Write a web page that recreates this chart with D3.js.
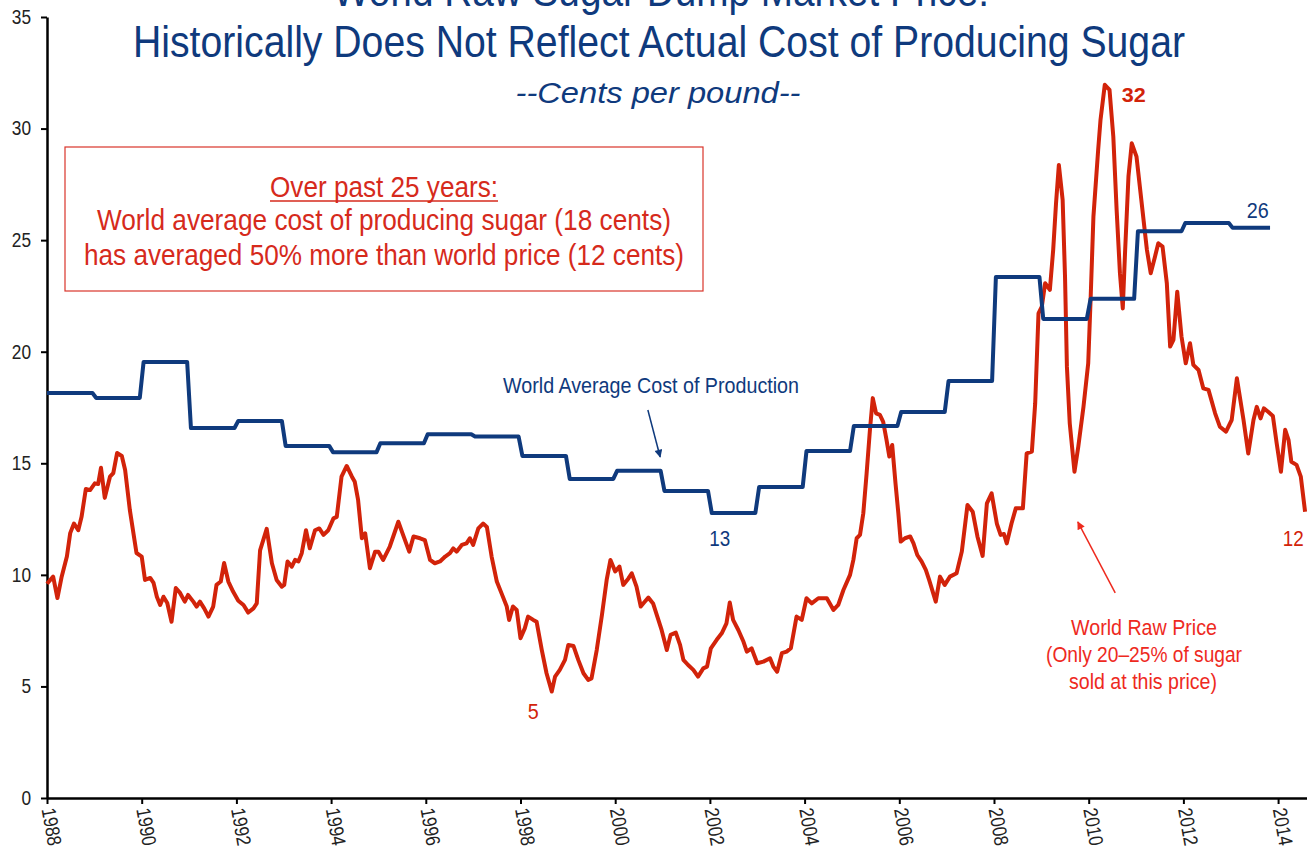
<!DOCTYPE html>
<html>
<head>
<meta charset="utf-8">
<script src="https://cdn.jsdelivr.net/npm/d3@7"></script>
<style>
  body { margin: 0; background: #fff; }
  text { font-family: "Liberation Sans Narrow", "Arial Narrow", "Liberation Sans", Arial, sans-serif; }
</style>
</head>
<body>
<div id="chart"></div>
<script>
// tick labels
var tickYears = [1988, 1990, 1992, 1994, 1996, 1998, 2000, 2002, 2004, 2006, 2008, 2010, 2012, 2014];
var tickCents = [0, 5, 10, 15, 20, 25, 30, 35];

// world average cost of production, one value per year (cents/lb)
var costYears = [1988, 1989, 1990, 1991, 1992, 1993, 1994, 1995, 1996, 1997, 1998, 1999, 2000,
                 2001, 2002, 2003, 2004, 2005, 2006, 2007, 2008, 2009, 2010, 2011, 2012, 2013];
var costValues = [18.15, 17.93, 19.54, 16.58, 16.9, 15.78, 15.5, 15.9, 16.3, 16.2, 15.33, 14.3, 14.66,
                  13.76, 12.77, 13.94, 15.55, 16.67, 17.3, 18.69, 23.35, 21.47, 22.37, 25.4, 25.77, 25.55];
var costEnd = 2013.83;

// world raw sugar price (cents/lb)
var priceDates = [
  1988.00, 1988.13, 1988.22, 1988.31, 1988.42, 1988.49, 1988.57, 1988.66, 1988.73, 1988.82, 1988.91,
  1989.01, 1989.08, 1989.14, 1989.22, 1989.33, 1989.40, 1989.48, 1989.58, 1989.65, 1989.75, 1989.89,
  1990.00, 1990.07, 1990.18, 1990.25, 1990.32, 1990.39, 1990.46, 1990.54, 1990.63, 1990.72, 1990.81, 1990.91, 1990.98,
  1991.09, 1991.16, 1991.23, 1991.32, 1991.41, 1991.51, 1991.58, 1991.67, 1991.74, 1991.83, 1991.93,
  1992.04, 1992.15, 1992.25, 1992.36, 1992.43, 1992.50, 1992.64, 1992.75, 1992.85, 1992.96,
  1993.01, 1993.08, 1993.17, 1993.24, 1993.31, 1993.38, 1993.47, 1993.55, 1993.66, 1993.75, 1993.84, 1993.94,
  1994.05, 1994.12, 1994.22, 1994.33, 1994.44, 1994.50, 1994.57, 1994.65, 1994.72, 1994.82, 1994.93,
  1995.00, 1995.10, 1995.24, 1995.42, 1995.52, 1995.65, 1995.74, 1995.88, 1995.98,
  1996.09, 1996.19, 1996.30, 1996.41, 1996.51, 1996.58, 1996.65, 1996.76, 1996.86, 1996.93,
  1997.00, 1997.11, 1997.21, 1997.29, 1997.39, 1997.50, 1997.60, 1997.71, 1997.76, 1997.84, 1997.92,
  1998.00, 1998.09, 1998.16, 1998.27, 1998.34, 1998.45, 1998.55, 1998.66, 1998.73, 1998.83, 1998.94,
  1999.01, 1999.12, 1999.22, 1999.33, 1999.43, 1999.50, 1999.61, 1999.72, 1999.82, 1999.90,
  2000.00, 2000.09, 2000.17, 2000.28, 2000.35, 2000.45, 2000.54, 2000.61, 2000.70, 2000.80, 2000.89, 2000.98,
  2001.09, 2001.17, 2001.28, 2001.37, 2001.44, 2001.54, 2001.65, 2001.75, 2001.86, 2001.94,
  2002.02, 2002.14, 2002.25, 2002.35, 2002.42, 2002.49, 2002.60, 2002.71, 2002.78, 2002.88,
  2003.00, 2003.13, 2003.27, 2003.34, 2003.42, 2003.52, 2003.62, 2003.71, 2003.83, 2003.94,
  2004.04, 2004.15, 2004.29, 2004.47, 2004.61, 2004.71, 2004.82, 2004.96,
  2005.03, 2005.10, 2005.17, 2005.24, 2005.31, 2005.38, 2005.44, 2005.51, 2005.59, 2005.66, 2005.73, 2005.79, 2005.85, 2005.92, 2005.98,
  2006.03, 2006.12, 2006.23, 2006.30, 2006.38, 2006.47, 2006.56, 2006.63, 2006.77, 2006.86, 2006.96,
  2007.07, 2007.21, 2007.32, 2007.44, 2007.55, 2007.65, 2007.76, 2007.85, 2007.95,
  2008.06, 2008.14, 2008.21, 2008.27, 2008.37, 2008.46, 2008.61, 2008.69, 2008.80, 2008.87, 2008.94,
  2009.01, 2009.08, 2009.18, 2009.25, 2009.31, 2009.37, 2009.45, 2009.50, 2009.54, 2009.60, 2009.70, 2009.78, 2009.89, 2009.99,
  2010.04, 2010.10, 2010.20, 2010.25, 2010.34, 2010.44, 2010.52, 2010.59, 2010.66, 2010.72, 2010.77, 2010.84, 2010.91,
  2011.01, 2011.08, 2011.19, 2011.23, 2011.31, 2011.40, 2011.47, 2011.56, 2011.65, 2011.72, 2011.79, 2011.87, 2011.96,
  2012.05, 2012.14, 2012.21, 2012.32, 2012.42, 2012.53, 2012.67, 2012.77, 2012.90,
  2013.02, 2013.13, 2013.27, 2013.37, 2013.48, 2013.55, 2013.63, 2013.70, 2013.79, 2013.89, 2013.97,
  2014.06, 2014.15, 2014.22, 2014.28, 2014.39, 2014.48, 2014.57
];
var priceValues = [
  9.6, 9.92, 8.96, 9.92, 10.82, 11.87, 12.3, 12.0, 12.6, 13.85, 13.8,
  14.1, 14.07, 14.8, 13.45, 14.4, 14.56, 15.46, 15.33, 14.7, 12.9, 10.98,
  10.82, 9.77, 9.86, 9.64, 9.02, 8.65, 9.02, 8.74, 7.9, 9.41, 9.19, 8.8, 9.1,
  8.8, 8.58, 8.8, 8.5, 8.13, 8.58, 9.55, 9.7, 10.53, 9.7, 9.25,
  8.84, 8.65, 8.31, 8.5, 8.72, 11.1, 12.06, 10.52, 9.77, 9.47,
  9.55, 10.6, 10.37, 10.67, 10.6, 10.97, 12.0, 11.19, 12.0, 12.08, 11.79, 12.0,
  12.53, 12.6, 14.4, 14.88, 14.4, 14.17, 13.36, 11.64, 11.86, 10.3, 11.04,
  11.04, 10.67, 11.27, 12.38, 11.79, 11.04, 11.72, 11.64, 11.56,
  10.67, 10.52, 10.6, 10.82, 10.97, 11.19, 11.04, 11.34, 11.41, 11.64,
  11.34, 12.08, 12.3, 12.15, 10.82, 9.7, 9.17, 8.58, 7.98, 8.58, 8.43,
  7.16, 7.6, 8.13, 7.98, 7.9, 6.63, 5.59, 4.77, 5.44, 5.74, 6.19,
  6.86, 6.81, 6.19, 5.59, 5.29, 5.36, 6.63, 8.2, 9.77, 10.67,
  10.15, 10.37, 9.55, 9.84, 10.07, 9.47, 8.58, 8.76, 8.98, 8.72, 8.13, 7.53,
  6.63, 7.31, 7.41, 6.86, 6.19, 5.96, 5.74, 5.44, 5.81, 5.89,
  6.71, 7.08, 7.38, 7.83, 8.76, 7.98, 7.53, 7.0, 6.56, 6.71,
  6.04, 6.11, 6.26, 5.89, 5.66, 6.49, 6.56, 6.71, 8.13, 7.98,
  8.95, 8.72, 8.95, 8.95, 8.43, 8.65, 9.32, 10.0,
  10.67, 11.64, 11.79, 12.76, 14.55, 16.5, 17.92, 17.24, 17.17, 16.86, 16.05, 15.3, 15.82, 14.1, 12.76,
  11.49, 11.64, 11.72, 11.41, 10.89, 10.6, 10.22, 9.77, 8.8, 9.92, 9.55,
  9.92, 10.07, 11.04, 13.13, 12.83, 11.72, 10.85, 13.2, 13.65,
  12.3, 11.79, 11.83, 11.41, 12.3, 12.98, 12.98, 15.44, 15.52, 17.69, 21.72,
  22.02, 23.07, 22.77, 24.56, 26.65, 28.37, 26.8, 23.37, 19.33, 16.79, 14.62, 15.74, 17.53, 19.48,
  22.32, 26.06, 29.05, 30.4, 31.96, 31.73, 29.64, 26.36, 23.52, 21.94, 24.56, 27.85, 29.34,
  28.74, 27.4, 25.31, 24.56, 23.52, 24.26, 24.86, 24.71, 23.07, 20.23, 20.53, 22.69, 20.68,
  19.48, 20.38, 19.41, 19.18, 18.36, 18.29, 17.24, 16.64, 16.42,
  16.94, 18.81, 16.94, 15.44, 16.94, 17.53, 17.01, 17.46, 17.31, 17.12, 15.9,
  14.62, 16.5, 16.05, 15.07, 14.93, 14.4, 12.83
];

var width = 1307, height = 855;
var navy = "#0f3a7d", red = "#d2230a", redText = "#d62a1c", redNote = "#ee2a1e";

var svg = d3.select("#chart")
  .append("svg")
    .attr("width", width)
    .attr("height", height)
    .style("display", "block");

var x = d3.scaleLinear().domain([1988, 2014.6]).range([47, 1306.5]);
var y = d3.scaleLinear().domain([0, 35]).range([798, 17]);

// text helper: textLength squeezes the fallback font to the narrow widths of the original
function label(g, str, px, py, size, color, len, anchor) {
  var t = g.append("text")
    .attr("x", px)
    .attr("y", py)
    .attr("font-size", size)
    .attr("fill", color)
    .attr("text-anchor", anchor || "middle")
    .text(str);
  if (len) t.attr("textLength", len).attr("lengthAdjust", "spacingAndGlyphs");
  return t;
}

// title
label(svg, "World Raw Sugar Dump Market Price:", 661, 6, 44, navy, 656);
label(svg, "Historically Does Not Reflect Actual Cost of Producing Sugar", 659, 57, 44, navy, 1052);
label(svg, "--Cents per pound--", 658, 103, 30, navy, 285).attr("font-style", "italic");

// Y axis
var yAxis = svg.append("g")
  .attr("transform", "translate(47,0)")
  .call(d3.axisLeft(y).tickValues(tickCents).tickSize(6).tickSizeOuter(0).tickPadding(10));
yAxis.selectAll("text")
  .attr("font-size", 20)
  .attr("fill", "#222")
  .attr("textLength", function(d) { return String(d).length * 9.6; })
  .attr("lengthAdjust", "spacingAndGlyphs");

// X axis
var xAxis = svg.append("g")
  .attr("transform", "translate(0,798)")
  .call(d3.axisBottom(x).tickValues(tickYears).tickFormat(d3.format("d")).tickSize(6).tickSizeOuter(0));
xAxis.selectAll("text")
  .attr("x", 0)
  .attr("y", 0)
  .attr("dy", "0.35em")
  .attr("text-anchor", "start")
  .attr("transform", "translate(1,10) rotate(80)")
  .attr("font-size", 20)
  .attr("fill", "#222")
  .attr("textLength", 38)
  .attr("lengthAdjust", "spacingAndGlyphs");

svg.selectAll(".domain").attr("stroke", "#000").attr("stroke-width", 2.5);
svg.selectAll(".tick line").attr("stroke", "#000").attr("stroke-width", 2);

// annotation box
svg.append("rect")
  .attr("x", 65).attr("y", 147)
  .attr("width", 638).attr("height", 144)
  .attr("fill", "#fff")
  .attr("stroke", "#d9342a")
  .attr("stroke-width", 1.2);
label(svg, "Over past 25 years:", 384, 197, 29, redText, 228);
svg.append("line")
  .attr("x1", 270).attr("x2", 498)
  .attr("y1", 201).attr("y2", 201)
  .attr("stroke", redText).attr("stroke-width", 1.5);
label(svg, "World average cost of producing sugar (18 cents)", 384, 230, 29, redText, 574);
label(svg, "has averaged 50% more than world price (12 cents)", 384, 265, 29, redText, 600);

// lines
var line = d3.line()
  .x(function(d) { return x(d[0]); })
  .y(function(d) { return y(d[1]); });

var pricePoints = d3.zip(priceDates, priceValues);

var costPoints = [];
costYears.forEach(function(yr, i) {
  var start = i === 0 ? yr : yr + 0.04;
  var end = i === costYears.length - 1 ? costEnd : yr + 0.96;
  costPoints.push([start, costValues[i]], [end, costValues[i]]);
});

svg.append("path")
  .datum(pricePoints)
  .attr("fill", "none")
  .attr("stroke", red)
  .attr("stroke-width", 4)
  .attr("stroke-linejoin", "round")
  .attr("d", line);

svg.append("path")
  .datum(costPoints)
  .attr("fill", "none")
  .attr("stroke", navy)
  .attr("stroke-width", 4)
  .attr("stroke-linejoin", "round")
  .attr("d", line);

// arrow markers
var defs = svg.append("defs");
function marker(id, color) {
  defs.append("marker")
    .attr("id", id)
    .attr("viewBox", "0 0 10 10")
    .attr("refX", 9).attr("refY", 5)
    .attr("markerWidth", 11).attr("markerHeight", 8)
    .attr("markerUnits", "userSpaceOnUse")
    .attr("orient", "auto")
    .append("path")
      .attr("d", "M0,0 L10,5 L0,10 z")
      .attr("fill", color);
}
marker("arrowNavy", navy);
marker("arrowRed", redNote);

// series labels
label(svg, "World Average Cost of Production", 651, 393, 22, navy, 296);
svg.append("line")
  .attr("x1", x(2000.69)).attr("y1", y(17.39))
  .attr("x2", x(2000.95)).attr("y2", y(15.28))
  .attr("stroke", navy).attr("stroke-width", 1.5)
  .attr("marker-end", "url(#arrowNavy)");

label(svg, "World Raw Price", 1144, 635, 22, redNote, 146);
label(svg, "(Only 20\u201325% of sugar", 1144, 662, 22, redNote, 196);
label(svg, "sold at this price)", 1143, 689, 22, redNote, 148);
svg.append("line")
  .attr("x1", x(2010.56)).attr("y1", y(9.19))
  .attr("x2", x(2009.77)).attr("y2", y(12.37))
  .attr("stroke", redNote).attr("stroke-width", 1.5)
  .attr("marker-end", "url(#arrowRed)");

// value call-outs
label(svg, "13", x(2002.21), y(11.3), 22, navy, 21);
label(svg, "5", x(1998.27), y(3.55), 22, red, 11);
label(svg, "32", x(2010.70), y(31.2), 21, red, 24, "start").attr("font-weight", "bold");
label(svg, "26", x(2013.34), y(26.0), 22, navy, 22, "start");
label(svg, "12", x(2014.10), y(11.3), 22, red, 21, "start");
</script>
</body>
</html>
